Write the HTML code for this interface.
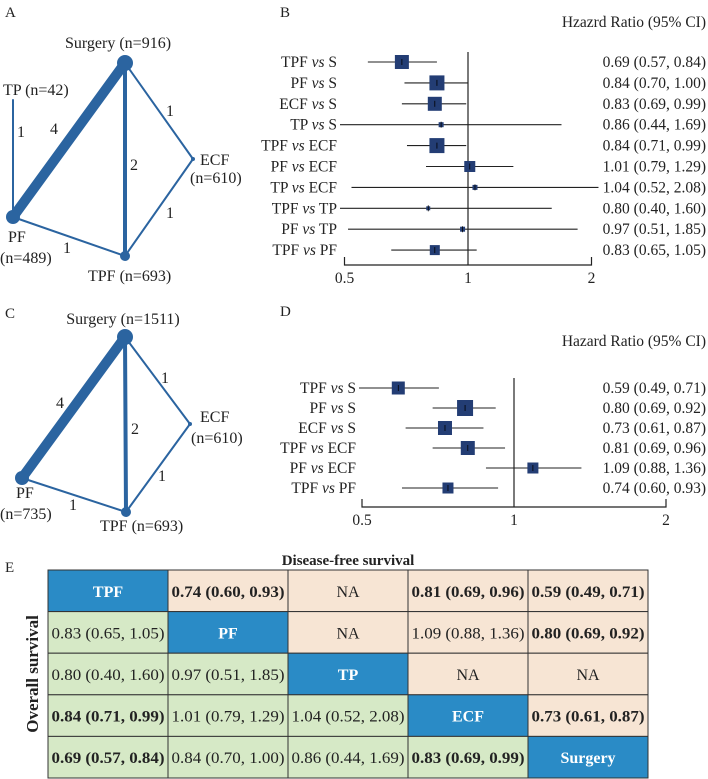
<!DOCTYPE html>
<html><head><meta charset="utf-8">
<style>
body{margin:0;background:#fff;}
svg{display:block;font-family:"Liberation Serif",serif;}
</style></head>
<body>
<svg id="fig" width="708" height="779" viewBox="0 0 708 779"></svg>
<script>
const labelsB=["TPF|S","PF|S","ECF|S","TP|S","TPF|ECF","PF|ECF","TP|ECF","TPF|TP","PF|TP","TPF|PF"];
const hrB=[0.69,0.84,0.83,0.86,0.84,1.01,1.04,0.80,0.97,0.83];
const loB=[0.57,0.70,0.69,0.44,0.71,0.79,0.52,0.40,0.51,0.65];
const hiB=[0.84,1.00,0.99,1.69,0.99,1.29,2.08,1.60,1.85,1.05];
const sizeB=[14,15,14,5,15,11,5,4,5,10];
const labelsD=["TPF|S","PF|S","ECF|S","TPF|ECF","PF|ECF","TPF|PF"];
const hrD=[0.59,0.80,0.73,0.81,1.09,0.74];
const loD=[0.49,0.69,0.61,0.69,0.88,0.60];
const hiD=[0.71,0.92,0.87,0.96,1.36,0.93];
const sizeD=[13,16,14,14,11,11];
const ticks=[0.5,1,2];
const treat=["TPF","PF","TP","ECF","Surgery"];
const upper=[["0.74 (0.60, 0.93)",1],["NA",0],["0.81 (0.69, 0.96)",1],["0.59 (0.49, 0.71)",1],["NA",0],["1.09 (0.88, 1.36)",0],["0.80 (0.69, 0.92)",1],["NA",0],["NA",0],["0.73 (0.61, 0.87)",1]];
const lower=[["0.83 (0.65, 1.05)",0],["0.80 (0.40, 1.60)",0],["0.97 (0.51, 1.85)",0],["0.84 (0.71, 0.99)",1],["1.01 (0.79, 1.29)",0],["1.04 (0.52, 2.08)",0],["0.69 (0.57, 0.84)",1],["0.84 (0.70, 1.00)",0],["0.86 (0.44, 1.69)",0],["0.83 (0.69, 0.99)",1]];

const NS="http://www.w3.org/2000/svg";
const svg=document.getElementById('fig');
function mk(tag,attrs,parent,text){const e=document.createElementNS(NS,tag);for(const k in attrs)e.setAttribute(k,attrs[k]);if(text!==undefined)e.textContent=text;(parent||svg).appendChild(e);return e;}
function txt(x,y,s,name,opts){const o=Object.assign({x:x,y:y,'font-size':15,fill:'#222'},opts||{});const t=mk('text',o,null,s);


return t;}

[["A",5,17],["B",280,17],["C",5,318],["D",280,316],["E",5,572]].forEach(p=>{txt(p[1],p[2],p[0],'panel-label-'+p[0].toLowerCase(),{'font-size':15});});

function network(nodes,edges,labels,prefix){
  const g=mk('g',{});
  
  
  edges.forEach(e=>{const a=nodes[e[0]],b=nodes[e[1]];const l=mk('line',{x1:a[0],y1:a[1],x2:b[0],y2:b[1],stroke:'#2b64a0','stroke-width':e[2],'stroke-linecap':'round'},g);
  
  });
  for(const k in nodes){const n=nodes[k];if(n[2]>0){const c=mk('circle',{cx:n[0],cy:n[1],r:n[2],fill:'#2b64a0'},g);
  
  }}
  labels.forEach(l=>{txt(l[0],l[1],l[2],prefix+'-label',{'font-size':16,'text-anchor':l[3]||'start'});});
}
network({S:[125,63,8],TPt:[13,100,0],PF:[13,217,7],TPF:[125,256,5],ECF:[193,159,2]},
 [["PF","S",10],["S","TPF",4],["TPt","PF",2],["S","ECF",2],["ECF","TPF",2],["PF","TPF",2]],
 [[118,48,"Surgery (n=916)","middle"],[3,95,"TP (n=42)"],[17,137,"1"],[50,134,"4"],[130,170,"2"],[166,116,"1"],[166,218,"1"],[63,253,"1"],[200,165,"ECF"],[190,183,"(n=610)"],[8,242,"PF"],[0,263,"(n=489)"],[88,281,"TPF (n=693)"]],'network-a');
network({S:[125,337,8],PF:[22,478,7],TPF:[126,512,5],ECF:[190,424,2]},
 [["PF","S",10],["S","TPF",4],["S","ECF",2],["ECF","TPF",2],["PF","TPF",2]],
 [[123,324,"Surgery (n=1511)","middle"],[56,408,"4"],[131,434,"2"],[161,383,"1"],[158,481,"1"],[69,510,"1"],[200,422,"ECF"],[191,443,"(n=610)"],[16,498,"PF"],[0,519,"(n=735)"],[100,531,"TPF (n=693)"]],'network-c');

function forest(cfg){
  const x=v=>cfg.x1+Math.log2(v)*cfg.k;
  const y=i=>cfg.y0+i*cfg.dy;
  txt(706,cfg.hy,cfg.header,cfg.p+'-header',{'text-anchor':'end','font-size':15.5});
  const ax=mk('path',{d:`M${x(0.5)},${cfg.ay-8}V${cfg.ay}H${x(2)}V${cfg.ay-8}`,fill:'none',stroke:'#222','stroke-width':1.2});
  
  
  const ref=mk('line',{x1:x(1),x2:x(1),y1:cfg.vt,y2:cfg.ay,stroke:'#222','stroke-width':1.2});
  
  
  ticks.forEach(t=>{txt(x(t),cfg.ay+18,String(t),cfg.p+'-tick-label',{'text-anchor':'middle','font-size':15.5});});
  cfg.labels.forEach((l,i)=>{
    const parts=l.split('|');
    const t=txt(cfg.lx,y(i)+5,'',cfg.p+'-row-label',{'text-anchor':'end','font-size':15.5});
    mk('tspan',{},t,parts[0]+' ');mk('tspan',{'font-style':'italic'},t,'vs');mk('tspan',{},t,' '+parts[1]);
    const ci=mk('line',{x1:Math.max(x(cfg.lo[i]),cfg.lx+3),x2:x(cfg.hi[i]),y1:y(i),y2:y(i),stroke:'#222','stroke-width':1.1});
    
    
    const s=cfg.size[i];
    const sq=mk('rect',{x:x(cfg.hr[i])-s/2,y:y(i)-s/2,width:s,height:s,fill:'#233d74'});
    
    
    mk('line',{x1:x(cfg.hr[i]),x2:x(cfg.hr[i]),y1:y(i)-3,y2:y(i)+3,stroke:'#000','stroke-width':0.8});
    txt(706,y(i)+5,cfg.hr[i].toFixed(2)+' ('+cfg.lo[i].toFixed(2)+', '+cfg.hi[i].toFixed(2)+')',cfg.p+'-value-label',{'text-anchor':'end','font-size':15.5});
  });
}
forest({p:'forest-b',x1:468,k:123.5,y0:62,dy:20.9,ay:265,vt:52,hy:27,lx:337,header:'Hzazrd Ratio (95% CI)',labels:labelsB,hr:hrB,lo:loB,hi:hiB,size:sizeB});
forest({p:'forest-d',x1:514,k:152,y0:388,dy:20,ay:507,vt:378,hy:346,lx:356,header:'Hazard Ratio (95% CI)',labels:labelsD,hr:hrD,lo:loD,hi:hiD,size:sizeD});

txt(348,565,'Disease-free survival','table-column-title',{'text-anchor':'middle','font-size':15,'font-weight':'bold'});
txt(0,0,'Overall survival','table-row-title',{'text-anchor':'middle','font-size':17,'font-weight':'bold',transform:'translate(38,674) rotate(-90)'});
const cx0=48,cw=120,ry0=570,rh=41.6;
let ui=0,li=0;
for(let r=0;r<5;r++)for(let c=0;c<5;c++){
  let fill,label,bold,col='#222';
  if(r===c){fill='#2a8bc6';label=treat[r];bold=1;col='#fff';}
  else if(c>r){fill='#f7e5d4';[label,bold]=upper[ui++];}
  else{fill='#d6e9c6';[label,bold]=lower[li++];}
  const rc=mk('rect',{x:cx0+c*cw,y:ry0+r*rh,width:cw,height:rh,fill:fill,stroke:'#333','stroke-width':1});
  
  
  const o={'text-anchor':'middle','font-size':16,'font-weight':bold?'bold':'normal',fill:col};
  if(label.length>8){o.textLength=113;o.lengthAdjust='spacingAndGlyphs';}
  txt(cx0+c*cw+cw/2,ry0+r*rh+rh/2+6,label,'table-cell-text',o);
}
</script>
</body></html>
